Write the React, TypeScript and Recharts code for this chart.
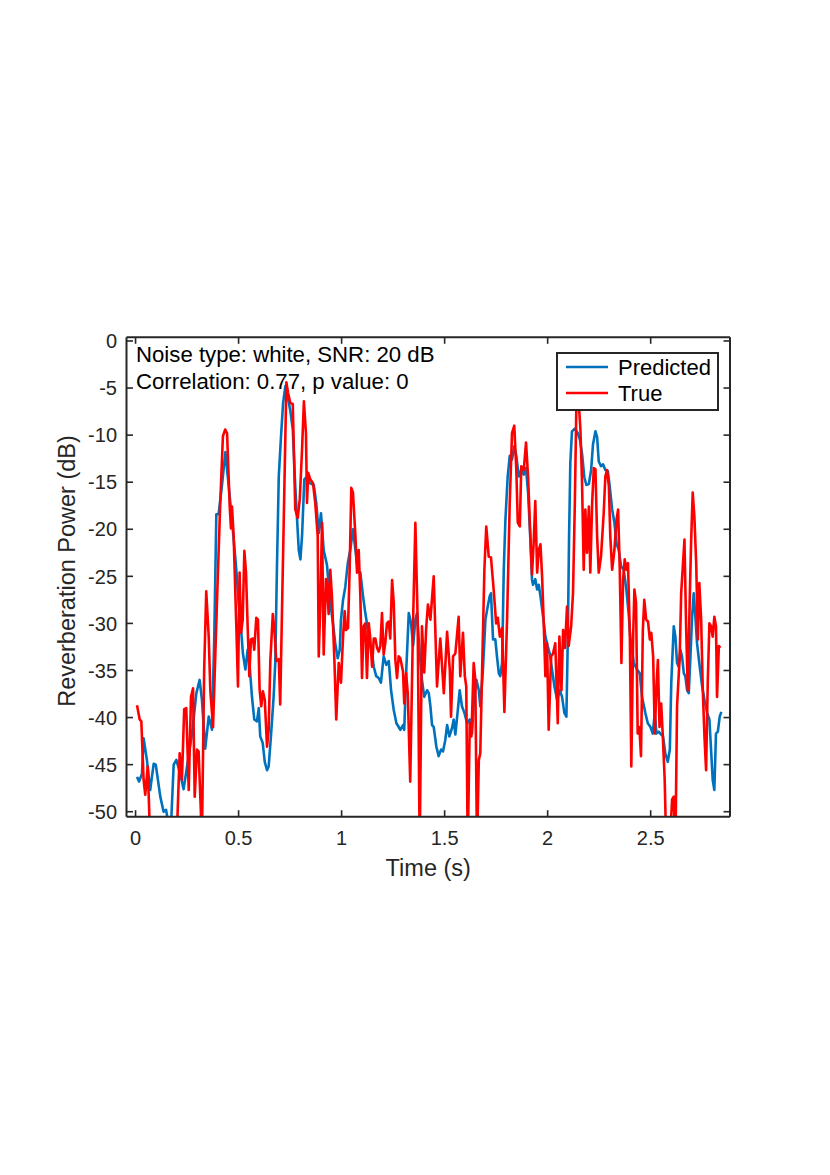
import React from 'react';
import { LineChart, Line, XAxis, YAxis, Legend, Label } from 'recharts';

const FONT = '"Liberation Sans", Arial, Helvetica, sans-serif';
const AX = '#262626';

const xDomain = [-0.044, 2.885];
const yDomain = [-50.53, 0.39];
const xTicks = [0, 0.5, 1, 1.5, 2, 2.5];
const yTicks = [-50, -45, -40, -35, -30, -25, -20, -15, -10, -5, 0];

const seriesNames = ['Predicted', 'True'];
const seriesColors = ['#0072BD', '#FF0000'];
const annotation = ['Noise type: white, SNR: 20 dB', 'Correlation: 0.77, p value: 0'];
const xLabel = 'Time (s)';
const yLabel = 'Reverberation Power (dB)';

// [time (s), power (dB)]
const predicted: [number, number][] = [
  [0.007,-46.3],[0.017,-46.8],[0.031,-46.0],[0.039,-42.2],[0.055,-44.5],[0.071,-47.7],[0.088,-44.9],[0.098,-45.0],
  [0.120,-48.4],[0.136,-50.0],[0.148,-49.8],[0.161,-51.5],[0.172,-51.5],[0.185,-45.0],[0.198,-44.5],[0.217,-46.0],
  [0.233,-47.6],[0.250,-45.2],[0.274,-41.7],[0.295,-37.4],[0.311,-36.0],[0.322,-38.1],[0.338,-43.3],[0.355,-39.9],
  [0.371,-41.3],[0.382,-31.4],[0.392,-18.4],[0.403,-18.4],[0.419,-15.4],[0.436,-11.8],[0.460,-17.2],[0.476,-21.0],
  [0.489,-24.3],[0.500,-27.8],[0.512,-30.6],[0.521,-33.2],[0.533,-34.9],[0.544,-32.8],[0.554,-34.6],[0.565,-37.8],
  [0.576,-40.2],[0.589,-40.4],[0.598,-39.0],[0.605,-42.0],[0.617,-42.7],[0.627,-44.7],[0.638,-45.6],[0.646,-45.2],
  [0.657,-42.0],[0.670,-37.8],[0.678,-34.2],[0.686,-24.3],[0.695,-14.4],[0.706,-10.1],[0.716,-6.6],[0.727,-4.8],
  [0.738,-5.9],[0.751,-7.4],[0.763,-9.4],[0.775,-15.4],[0.783,-18.6],[0.792,-22.2],[0.800,-23.2],[0.808,-20.7],
  [0.819,-14.7],[0.832,-14.4],[0.845,-15.1],[0.865,-15.3],[0.877,-17.2],[0.889,-20.4],[0.900,-18.3],[0.913,-22.2],
  [0.929,-23.8],[0.945,-27.8],[0.958,-30.0],[0.969,-32.1],[0.981,-33.7],[0.991,-32.8],[0.997,-29.6],[1.007,-27.5],
  [1.018,-26.1],[1.030,-23.6],[1.042,-22.2],[1.055,-20.0],[1.067,-22.2],[1.078,-24.3],[1.091,-24.6],[1.104,-27.1],
  [1.115,-28.9],[1.123,-30.0],[1.136,-32.1],[1.148,-33.2],[1.156,-34.6],[1.168,-35.6],[1.180,-35.8],[1.191,-36.3],
  [1.204,-33.5],[1.217,-34.4],[1.229,-34.0],[1.240,-37.1],[1.253,-39.2],[1.266,-40.6],[1.277,-41.0],[1.285,-41.3],
  [1.298,-40.8],[1.304,-41.3],[1.314,-34.9],[1.326,-28.9],[1.337,-30.0],[1.347,-32.4],[1.358,-29.6],[1.366,-28.9],
  [1.379,-33.2],[1.390,-36.0],[1.401,-37.8],[1.415,-37.1],[1.423,-37.4],[1.431,-38.8],[1.439,-40.8],[1.447,-41.0],
  [1.460,-43.1],[1.471,-44.1],[1.483,-43.4],[1.492,-43.6],[1.503,-42.4],[1.512,-40.8],[1.523,-42.0],[1.536,-41.1],
  [1.544,-40.2],[1.552,-41.8],[1.564,-39.2],[1.573,-37.1],[1.584,-38.8],[1.596,-39.5],[1.609,-40.6],[1.622,-40.2],
  [1.633,-41.7],[1.641,-38.5],[1.654,-36.0],[1.666,-37.1],[1.673,-38.8],[1.686,-34.9],[1.698,-29.6],[1.709,-28.2],
  [1.719,-27.1],[1.725,-26.8],[1.735,-31.7],[1.746,-31.7],[1.754,-33.5],[1.763,-35.3],[1.770,-35.6],[1.779,-34.2],
  [1.787,-24.3],[1.795,-19.0],[1.806,-14.4],[1.816,-12.2],[1.827,-12.6],[1.838,-11.2],[1.848,-12.2],[1.860,-14.4],
  [1.872,-13.7],[1.884,-14.2],[1.895,-13.5],[1.905,-16.1],[1.917,-21.5],[1.924,-25.3],[1.929,-25.9],[1.940,-25.3],
  [1.949,-26.4],[1.957,-25.9],[1.965,-27.1],[1.978,-29.3],[1.989,-31.4],[2.000,-32.4],[2.010,-33.2],[2.021,-34.9],
  [2.033,-36.7],[2.046,-38.1],[2.059,-37.1],[2.070,-37.8],[2.081,-39.5],[2.091,-39.9],[2.098,-31.4],[2.104,-20.7],
  [2.110,-13.0],[2.118,-9.6],[2.133,-9.3],[2.146,-9.8],[2.157,-10.5],[2.167,-12.0],[2.178,-14.5],[2.188,-15.3],
  [2.200,-15.2],[2.211,-13.7],[2.220,-11.0],[2.232,-9.6],[2.240,-10.2],[2.248,-12.8],[2.259,-13.3],[2.269,-13.1],
  [2.280,-13.7],[2.292,-13.8],[2.301,-15.4],[2.313,-17.9],[2.324,-19.3],[2.334,-21.5],[2.345,-22.2],[2.356,-23.9],
  [2.369,-24.3],[2.382,-26.4],[2.393,-28.9],[2.401,-31.4],[2.418,-34.2],[2.434,-34.9],[2.447,-35.3],[2.458,-37.8],
  [2.474,-39.5],[2.486,-40.6],[2.499,-41.0],[2.510,-41.7],[2.520,-39.5],[2.528,-41.7],[2.539,-41.5],[2.547,-41.7],
  [2.560,-42.0],[2.571,-43.8],[2.583,-44.7],[2.593,-43.4],[2.600,-36.3],[2.612,-30.3],[2.620,-31.4],[2.628,-34.2],
  [2.636,-34.6],[2.644,-32.8],[2.652,-33.5],[2.661,-35.3],[2.668,-35.6],[2.677,-37.1],[2.685,-37.4],[2.693,-33.5],
  [2.701,-29.3],[2.709,-26.8],[2.717,-29.3],[2.725,-32.1],[2.738,-34.6],[2.750,-36.7],[2.761,-38.1],[2.774,-39.5],
  [2.785,-40.2],[2.793,-43.4],[2.801,-46.6],[2.809,-47.7],[2.817,-41.7],[2.826,-41.5],[2.835,-39.9],[2.843,-39.4],
];

const truth: [number, number][] = [
  [0.007,-38.7],[0.020,-40.2],[0.028,-40.4],[0.039,-46.6],[0.047,-48.2],[0.059,-45.2],[0.071,-53.0],[0.133,-56.0],
  [0.201,-52.0],[0.214,-43.8],[0.225,-46.6],[0.236,-39.1],[0.246,-39.0],[0.258,-47.7],[0.269,-37.8],[0.279,-36.9],
  [0.287,-48.4],[0.298,-43.4],[0.306,-43.6],[0.322,-53.0],[0.333,-34.9],[0.343,-26.6],[0.355,-31.4],[0.363,-37.2],
  [0.376,-41.0],[0.395,-27.8],[0.411,-17.2],[0.424,-10.1],[0.435,-9.4],[0.444,-9.8],[0.457,-17.6],[0.463,-19.9],
  [0.468,-17.6],[0.476,-20.7],[0.489,-30.3],[0.497,-36.7],[0.505,-24.6],[0.512,-31.0],[0.520,-29.6],[0.528,-22.3],
  [0.536,-24.6],[0.544,-30.3],[0.552,-35.6],[0.560,-31.7],[0.570,-31.6],[0.576,-32.8],[0.586,-29.4],[0.594,-29.6],
  [0.602,-37.0],[0.610,-38.8],[0.618,-37.2],[0.627,-38.1],[0.638,-43.1],[0.646,-41.3],[0.654,-34.0],[0.666,-29.0],
  [0.675,-31.0],[0.683,-34.0],[0.695,-33.8],[0.702,-38.6],[0.732,-4.4],[0.740,-5.5],[0.751,-6.6],[0.763,-6.7],
  [0.775,-17.9],[0.787,-18.8],[0.797,-16.8],[0.808,-11.5],[0.817,-6.4],[0.827,-9.8],[0.832,-17.2],[0.838,-14.0],
  [0.848,-14.7],[0.861,-15.1],[0.872,-17.2],[0.884,-20.7],[0.889,-33.5],[0.897,-27.8],[0.905,-19.3],[0.913,-33.3],
  [0.924,-25.3],[0.929,-25.7],[0.937,-29.0],[0.945,-24.3],[0.953,-27.1],[0.965,-33.9],[0.974,-40.2],[0.986,-34.2],
  [0.997,-36.3],[1.007,-31.4],[1.015,-28.7],[1.021,-30.7],[1.031,-30.5],[1.039,-24.3],[1.047,-15.6],[1.055,-16.1],
  [1.067,-20.7],[1.075,-24.6],[1.083,-22.2],[1.091,-27.1],[1.099,-35.8],[1.107,-30.3],[1.115,-30.0],[1.123,-35.8],
  [1.132,-30.0],[1.139,-31.6],[1.148,-34.6],[1.156,-31.6],[1.164,-31.6],[1.172,-32.6],[1.180,-33.0],[1.188,-32.4],
  [1.196,-28.9],[1.204,-33.3],[1.212,-32.1],[1.220,-30.0],[1.229,-29.8],[1.236,-31.6],[1.245,-25.4],[1.253,-27.8],
  [1.261,-33.9],[1.269,-35.8],[1.277,-33.5],[1.285,-33.7],[1.298,-35.1],[1.304,-38.5],[1.313,-35.3],[1.321,-37.4],
  [1.333,-46.8],[1.347,-29.6],[1.358,-19.3],[1.369,-29.6],[1.379,-54.0],[1.390,-30.3],[1.401,-35.2],[1.411,-30.3],
  [1.419,-28.0],[1.431,-29.6],[1.447,-25.0],[1.463,-36.7],[1.479,-31.6],[1.496,-37.4],[1.512,-30.9],[1.525,-34.9],
  [1.531,-39.9],[1.541,-33.5],[1.552,-33.2],[1.568,-29.3],[1.576,-35.6],[1.589,-31.0],[1.598,-35.6],[1.605,-36.7],
  [1.612,-54.0],[1.622,-40.6],[1.630,-42.0],[1.641,-34.2],[1.649,-36.0],[1.657,-54.0],[1.666,-44.5],[1.673,-43.8],
  [1.682,-34.9],[1.693,-24.3],[1.702,-19.7],[1.714,-22.9],[1.725,-23.0],[1.738,-26.4],[1.750,-30.0],[1.758,-29.4],
  [1.768,-31.4],[1.779,-30.5],[1.790,-39.4],[1.803,-29.6],[1.816,-17.2],[1.827,-9.8],[1.838,-9.0],[1.848,-13.7],
  [1.855,-19.3],[1.865,-19.7],[1.872,-13.3],[1.884,-13.7],[1.895,-10.8],[1.905,-14.4],[1.916,-20.7],[1.924,-24.8],
  [1.932,-21.5],[1.940,-17.0],[1.949,-24.6],[1.957,-22.2],[1.965,-21.6],[1.973,-25.0],[1.981,-30.0],[1.989,-35.6],
  [1.997,-32.1],[2.005,-41.3],[2.017,-33.5],[2.026,-33.2],[2.037,-32.1],[2.049,-40.6],[2.057,-31.4],[2.067,-37.1],
  [2.075,-30.7],[2.084,-32.6],[2.094,-28.2],[2.102,-32.4],[2.114,-30.3],[2.123,-26.8],[2.132,-17.2],[2.139,-7.3],
  [2.148,-5.5],[2.159,-9.4],[2.167,-15.1],[2.175,-24.3],[2.183,-17.9],[2.191,-22.5],[2.200,-17.6],[2.207,-24.6],
  [2.216,-17.2],[2.224,-13.5],[2.232,-13.6],[2.240,-20.7],[2.248,-24.6],[2.259,-22.9],[2.272,-18.3],[2.280,-14.4],
  [2.288,-13.7],[2.297,-15.4],[2.304,-20.7],[2.313,-24.3],[2.324,-22.2],[2.334,-19.0],[2.342,-17.9],[2.350,-24.3],
  [2.358,-34.2],[2.366,-25.4],[2.374,-23.2],[2.382,-24.3],[2.390,-23.6],[2.399,-31.4],[2.406,-45.2],[2.415,-31.4],
  [2.421,-26.4],[2.429,-27.8],[2.437,-41.7],[2.445,-41.0],[2.453,-44.1],[2.462,-30.7],[2.469,-27.5],[2.478,-29.6],
  [2.487,-29.8],[2.496,-31.7],[2.503,-31.0],[2.512,-33.5],[2.520,-41.7],[2.528,-36.7],[2.535,-33.9],[2.543,-41.0],
  [2.551,-38.5],[2.559,-42.0],[2.568,-46.6],[2.576,-54.0],[2.594,-53.0],[2.604,-48.7],[2.612,-48.4],[2.620,-54.0],
  [2.628,-38.8],[2.641,-33.5],[2.648,-26.8],[2.657,-23.6],[2.664,-21.1],[2.672,-30.3],[2.680,-37.1],[2.690,-27.1],
  [2.696,-21.5],[2.704,-16.1],[2.712,-18.6],[2.721,-23.6],[2.729,-31.7],[2.736,-25.7],[2.745,-29.6],[2.753,-37.1],
  [2.761,-42.0],[2.769,-45.6],[2.777,-36.3],[2.785,-30.0],[2.793,-30.3],[2.801,-31.4],[2.809,-29.3],[2.817,-30.3],
  [2.822,-37.8],[2.831,-32.4],[2.838,-32.6],
];

const predData = predicted.map(([t, v]) => ({ t, v }));
const trueData = truth.map(([t, v]) => ({ t, v }));

const TICK_LEN = 6.5;
const TICK_FONT = 20;

const BottomTick = (props: any) => {
  const { x, y, payload } = props;
  return (
    <g>
      <line x1={x} x2={x} y1={y} y2={y - TICK_LEN} stroke={AX} strokeWidth={1.6} />
      <text x={x} y={y + 28.3} textAnchor="middle" fontSize={TICK_FONT} fill={AX} fontFamily={FONT}>
        {String(payload.value)}
      </text>
    </g>
  );
};

const TopTick = (props: any) => {
  const { x, y } = props;
  return <line x1={x} x2={x} y1={y} y2={y + TICK_LEN} stroke={AX} strokeWidth={1.6} />;
};

const LeftTick = (props: any) => {
  const { x, y, payload } = props;
  return (
    <g>
      <line x1={x} x2={x + TICK_LEN} y1={y} y2={y} stroke={AX} strokeWidth={1.6} />
      <text x={x - 9.5} y={y + 7.2} textAnchor="end" fontSize={TICK_FONT} fill={AX} fontFamily={FONT}>
        {String(payload.value)}
      </text>
    </g>
  );
};

const RightTick = (props: any) => {
  const { x, y } = props;
  return <line x1={x} x2={x - TICK_LEN} y1={y} y2={y} stroke={AX} strokeWidth={1.6} />;
};

const XLabelContent = (props: any) => {
  const vb = props.viewBox || { x: 126.5, y: 816.7, width: 603.5, height: 40 };
  return (
    <text x={vb.x + vb.width / 2} y={vb.y + 59.5} textAnchor="middle" fontSize={23.5} fill={AX} fontFamily={FONT}>
      {xLabel}
    </text>
  );
};

const YLabelContent = (props: any) => {
  const vb = props.viewBox || { x: 66.5, y: 337.3, width: 60, height: 479.4 };
  const cx = vb.x + 8.5;
  const cy = vb.y + vb.height / 2 - 6;
  return (
    <text x={cx} y={cy} transform={`rotate(-90 ${cx} ${cy})`} textAnchor="middle" fontSize={23.5} fill={AX} fontFamily={FONT}>
      {yLabel}
    </text>
  );
};

const AnnotationContent = (props: any) => {
  const vb = props.viewBox || { x: 126.5, y: 336.3, width: 603.5, height: 1 };
  const top = vb.y + vb.height;
  return (
    <g>
      {annotation.map((s, i) => (
        <text key={i} x={vb.x + 9.5} y={top + 24.5 + i * 27} fontSize={22.2} fill="#000" fontFamily={FONT}>
          {s}
        </text>
      ))}
    </g>
  );
};

const LegendBox = () => (
  <svg width={163} height={59} style={{ display: 'block' }}>
    <rect x={1} y={1} width={161} height={57} fill="#fff" stroke={AX} strokeWidth={2} />
    {seriesNames.map((n, i) => (
      <g key={n}>
        <line x1={10} x2={52} y1={15 + i * 26} y2={15 + i * 26} stroke={seriesColors[i]} strokeWidth={2.6} />
        <text x={62} y={23 + i * 26} fontSize={22} fill="#000" fontFamily={FONT}>
          {n}
        </text>
      </g>
    ))}
  </svg>
);

export default function App() {
  return (
    <div style={{ position: 'absolute', left: 0, top: 0, width: 830, height: 1175, background: '#fff' }}>
      <LineChart width={830} height={1175} margin={{ top: 336.3, right: 98, bottom: 318.3, left: 66.5 }}>
        <XAxis
          dataKey="t"
          type="number"
          domain={xDomain}
          ticks={xTicks}
          allowDataOverflow
          interval={0}
          height={40}
          tickSize={0}
          tickMargin={0}
          tickLine={false}
          axisLine={{ stroke: AX, strokeWidth: 2 }}
          tick={<BottomTick />}
        >
          <Label content={<XLabelContent />} />
        </XAxis>
        <XAxis
          xAxisId="top"
          orientation="top"
          dataKey="t"
          type="number"
          domain={xDomain}
          ticks={xTicks}
          allowDataOverflow
          interval={0}
          height={1}
          tickSize={0}
          tickMargin={0}
          tickLine={false}
          axisLine={{ stroke: AX, strokeWidth: 2 }}
          tick={<TopTick />}
        >
          <Label content={<AnnotationContent />} />
        </XAxis>
        <YAxis
          type="number"
          domain={yDomain}
          ticks={yTicks}
          allowDataOverflow
          interval={0}
          width={60}
          tickSize={0}
          tickMargin={0}
          tickLine={false}
          axisLine={{ stroke: AX, strokeWidth: 2 }}
          tick={<LeftTick />}
        >
          <Label content={<YLabelContent />} />
        </YAxis>
        <YAxis
          yAxisId="right"
          orientation="right"
          type="number"
          domain={yDomain}
          ticks={yTicks}
          allowDataOverflow
          interval={0}
          width={2}
          tickSize={0}
          tickMargin={0}
          tickLine={false}
          axisLine={{ stroke: AX, strokeWidth: 2 }}
          tick={<RightTick />}
        />
        <Line
          data={predData}
          dataKey="v"
          name={seriesNames[0]}
          stroke={seriesColors[0]}
          strokeWidth={2.6}
          strokeLinejoin="round"
          dot={false}
          activeDot={false}
          isAnimationActive={false}
        />
        <Line
          data={trueData}
          dataKey="v"
          name={seriesNames[1]}
          stroke={seriesColors[1]}
          strokeWidth={2.6}
          strokeLinejoin="round"
          dot={false}
          activeDot={false}
          isAnimationActive={false}
        />
        <Legend
          layout="horizontal"
          align="center"
          verticalAlign="middle"
          content={<LegendBox />}
          wrapperStyle={{ position: 'absolute', left: 556, top: 352, width: 163, height: 59, margin: 0, padding: 0 }}
        />
      </LineChart>
    </div>
  );
}
